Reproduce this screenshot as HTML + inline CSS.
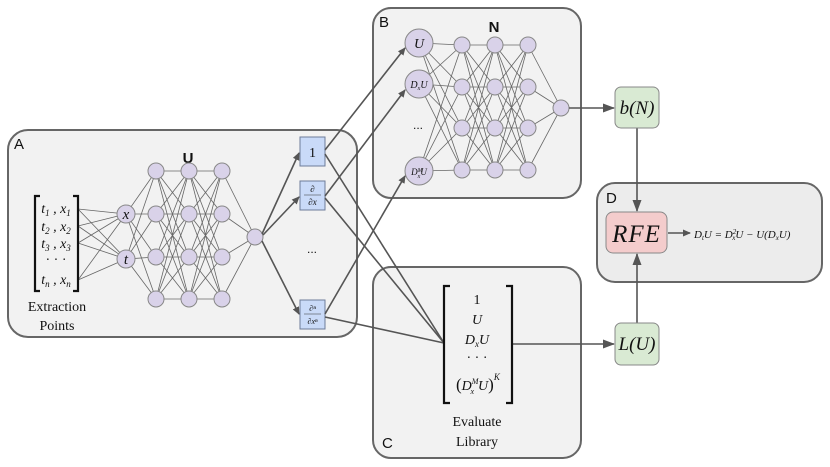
<!DOCTYPE html>
<html><head><meta charset="utf-8"><style>
html,body{margin:0;padding:0;background:#fff;}
svg{display:block;}
.m{font-family:"Liberation Serif",serif;font-style:italic;fill:#111;}
.r{font-family:"Liberation Serif",serif;fill:#111;}
.s{font-family:"Liberation Sans",sans-serif;fill:#111;}
</style></head><body>
<svg id="g" width="830" height="467" viewBox="0 0 830 467" xmlns="http://www.w3.org/2000/svg">
<defs><marker id="ar" markerWidth="8" markerHeight="8" refX="7" refY="4" orient="auto" markerUnits="userSpaceOnUse"><path d="M0,0.5 L8,4 L0,7.5z" fill="#555"/></marker>
<marker id="ar2" markerWidth="12" markerHeight="10" refX="11" refY="5" orient="auto" markerUnits="userSpaceOnUse"><path d="M0,0.5 L12,5 L0,9.5z" fill="#555"/></marker></defs>
<rect x="8" y="130" width="349" height="207" rx="20" fill="#f2f2f2" stroke="#666" stroke-width="2"/>
<rect x="373" y="8" width="208" height="190" rx="18" fill="#f2f2f2" stroke="#666" stroke-width="2"/>
<rect x="373" y="267" width="208" height="191" rx="18" fill="#f2f2f2" stroke="#666" stroke-width="2"/>
<rect x="597" y="183" width="225" height="99" rx="18" fill="#ececec" stroke="#666" stroke-width="2"/>
<text x="14" y="149" class="s" font-size="15">A</text>
<text x="379" y="27" class="s" font-size="15">B</text>
<text x="382" y="448" class="s" font-size="15">C</text>
<text x="606" y="203" class="s" font-size="15">D</text>
<text x="188" y="163" class="s" font-size="15" font-weight="bold" text-anchor="middle">U</text>
<text x="494" y="32" class="s" font-size="15" font-weight="bold" text-anchor="middle">N</text>
<g id="edges" stroke="#666" stroke-width="0.8" fill="none"></g>
<g id="nodes" fill="#d9d2e9" stroke="#888" stroke-width="1"></g>
<text x="126" y="219" class="m" font-size="15" text-anchor="middle">x</text>
<text x="126" y="264" class="m" font-size="15" text-anchor="middle">t</text>
<text x="419" y="48" class="m" font-size="14" text-anchor="middle">U</text>
<text x="419" y="88" class="m" font-size="10" text-anchor="middle">D<tspan font-size="6" dy="2">x</tspan><tspan dy="-2">U</tspan></text>
<text x="419" y="175" class="m" font-size="9" text-anchor="middle">D<tspan font-size="6" dy="-3">M</tspan><tspan font-size="6" dx="-5" dy="6">x</tspan><tspan dy="-3">U</tspan></text>
<path d="M40,196 H35 V291 H40 M73,196 H78 V291 H73" stroke="#111" stroke-width="2.2" fill="none"/>
<text x="56" y="213" class="m" font-size="14" text-anchor="middle">t<tspan font-size="9" dy="3">1</tspan><tspan dy="-3"> , x</tspan><tspan font-size="9" dy="3">1</tspan></text>
<text x="56" y="231" class="m" font-size="14" text-anchor="middle">t<tspan font-size="9" dy="3">2</tspan><tspan dy="-3"> , x</tspan><tspan font-size="9" dy="3">2</tspan></text>
<text x="56" y="248" class="m" font-size="14" text-anchor="middle">t<tspan font-size="9" dy="3">3</tspan><tspan dy="-3"> , x</tspan><tspan font-size="9" dy="3">3</tspan></text>
<text x="56" y="264" class="r" font-size="14" text-anchor="middle">· · ·</text>
<text x="56" y="284" class="m" font-size="14" text-anchor="middle">t<tspan font-size="9" dy="3">n</tspan><tspan dy="-3"> , x</tspan><tspan font-size="9" dy="3">n</tspan></text>
<text x="57" y="311" class="r" font-size="14" text-anchor="middle">Extraction</text>
<text x="57" y="330" class="r" font-size="14" text-anchor="middle">Points</text>
<rect x="300" y="137" width="25" height="29" fill="#c9daf8" stroke="#6d7c99"/>
<text x="312.5" y="157" class="r" font-size="14" text-anchor="middle">1</text>
<rect x="300" y="181" width="25" height="29" fill="#c9daf8" stroke="#6d7c99"/>
<text x="312.5" y="192" class="m" font-size="9" text-anchor="middle">∂</text>
<line x1="304" y1="195" x2="321" y2="195" stroke="#333" stroke-width="0.6"/>
<text x="312.5" y="205" class="m" font-size="9" text-anchor="middle">∂x</text>
<rect x="300" y="300" width="25" height="29" fill="#c9daf8" stroke="#6d7c99"/>
<text x="312.5" y="311" class="m" font-size="8" text-anchor="middle">∂ⁿ</text>
<line x1="304" y1="314" x2="321" y2="314" stroke="#333" stroke-width="0.6"/>
<text x="312.5" y="324" class="m" font-size="8" text-anchor="middle">∂xⁿ</text>
<text x="312" y="253" class="s" font-size="12" text-anchor="middle">...</text>
<g stroke="#555" stroke-width="1.6" fill="none">
<line x1="262" y1="234" x2="299" y2="153" marker-end="url(#ar)"/>
<line x1="263" y1="235" x2="299" y2="197" marker-end="url(#ar)"/>
<line x1="262" y1="241" x2="299" y2="314" marker-end="url(#ar)"/>
<line x1="325" y1="150" x2="405" y2="48" marker-end="url(#ar)"/>
<line x1="325" y1="196" x2="405" y2="90" marker-end="url(#ar)"/>
<line x1="325" y1="314" x2="405" y2="176" marker-end="url(#ar)"/>
<line x1="325" y1="154" x2="444" y2="343"/>
<line x1="325" y1="198" x2="444" y2="343"/>
<line x1="325" y1="317" x2="444" y2="343"/>
<line x1="569" y1="108" x2="614" y2="108" marker-end="url(#ar2)"/>
<line x1="637" y1="128" x2="637" y2="211" marker-end="url(#ar2)"/>
<line x1="637" y1="323" x2="637" y2="254" marker-end="url(#ar2)"/>
<line x1="512" y1="344" x2="614" y2="344" marker-end="url(#ar2)"/>
<line x1="668" y1="233" x2="690" y2="233" marker-end="url(#ar)"/>
</g>
<text x="418" y="129" class="s" font-size="12" text-anchor="middle">...</text>
<path d="M450,286 H444 V403 H450 M506,286 H512 V403 H506" stroke="#111" stroke-width="2.2" fill="none"/>
<text x="477" y="304" class="r" font-size="14" text-anchor="middle">1</text>
<text x="477" y="324" class="m" font-size="14" text-anchor="middle">U</text>
<text x="477" y="344" class="m" font-size="14" text-anchor="middle">D<tspan font-size="9" dy="3">x</tspan><tspan dy="-3">U</tspan></text>
<text x="477" y="362" class="r" font-size="14" text-anchor="middle">· · ·</text>
<text x="456" y="390" class="m" font-size="14"><tspan font-style="normal" font-size="17">(</tspan>D<tspan font-size="8" dy="-6">M</tspan><tspan font-size="8" dx="-8" dy="10">x</tspan><tspan dx="4" dy="-4">U</tspan><tspan font-style="normal" font-size="17">)</tspan><tspan font-size="9" dy="-10">K</tspan></text>
<text x="477" y="426" class="r" font-size="14" text-anchor="middle">Evaluate</text>
<text x="477" y="446" class="r" font-size="14" text-anchor="middle">Library</text>
<rect x="615" y="87" width="44" height="41" rx="6" fill="#d9ead3" stroke="#888"/>
<text x="637" y="114" class="m" font-size="19" text-anchor="middle">b(N)</text>
<rect x="615" y="323" width="44" height="42" rx="6" fill="#d9ead3" stroke="#888"/>
<text x="637" y="350" class="m" font-size="19" text-anchor="middle">L(U)</text>
<rect x="606" y="212" width="61" height="41" rx="7" fill="#f4cccc" stroke="#888"/>
<text x="636.5" y="242" class="m" font-size="25" text-anchor="middle" letter-spacing="1">RFE</text>
<text x="694" y="238" class="m" font-size="11">D<tspan font-size="7" dy="2">t</tspan><tspan dy="-2">U = D</tspan><tspan font-size="7" dy="-4">2</tspan><tspan font-size="7" dx="-4" dy="6">x</tspan><tspan dy="-2">U − U(D</tspan><tspan font-size="7" dy="2">x</tspan><tspan dy="-2">U)</tspan></text>
</svg>
<script>
var E=document.getElementById('edges'),N=document.getElementById('nodes'),ns='http://www.w3.org/2000/svg';
function L(a,b,c,d){var l=document.createElementNS(ns,'line');l.setAttribute('x1',a);l.setAttribute('y1',b);l.setAttribute('x2',c);l.setAttribute('y2',d);E.appendChild(l);}
function C(x,y,r){var c=document.createElementNS(ns,'circle');c.setAttribute('cx',x);c.setAttribute('cy',y);c.setAttribute('r',r);N.appendChild(c);}
var rows=[209,226,243,280],ins=[[126,214],[126,259]],hx=[156,189,222],hy=[171,214,257,299];
rows.forEach(function(y){ins.forEach(function(p){L(78,y,p[0],p[1]);});});
ins.forEach(function(p){hy.forEach(function(y){L(p[0],p[1],hx[0],y);});});
for(var k=0;k<2;k++)hy.forEach(function(a){hy.forEach(function(b){L(hx[k],a,hx[k+1],b);});});
hy.forEach(function(y){L(hx[2],y,255,237);});
ins.forEach(function(p){C(p[0],p[1],9);});
hx.forEach(function(x){hy.forEach(function(y){C(x,y,8);});});
C(255,237,8);
var bi=[[419,43],[419,84],[419,171]],bx=[462,495,528],by=[45,87,128,170];
bi.forEach(function(p){by.forEach(function(y){L(p[0],p[1],bx[0],y);});});
for(k=0;k<2;k++)by.forEach(function(a){by.forEach(function(b){L(bx[k],a,bx[k+1],b);});});
by.forEach(function(y){L(bx[2],y,561,108);});
bi.forEach(function(p){C(p[0],p[1],14);});
bx.forEach(function(x){by.forEach(function(y){C(x,y,8);});});
C(561,108,8);
</script>
</body></html>
